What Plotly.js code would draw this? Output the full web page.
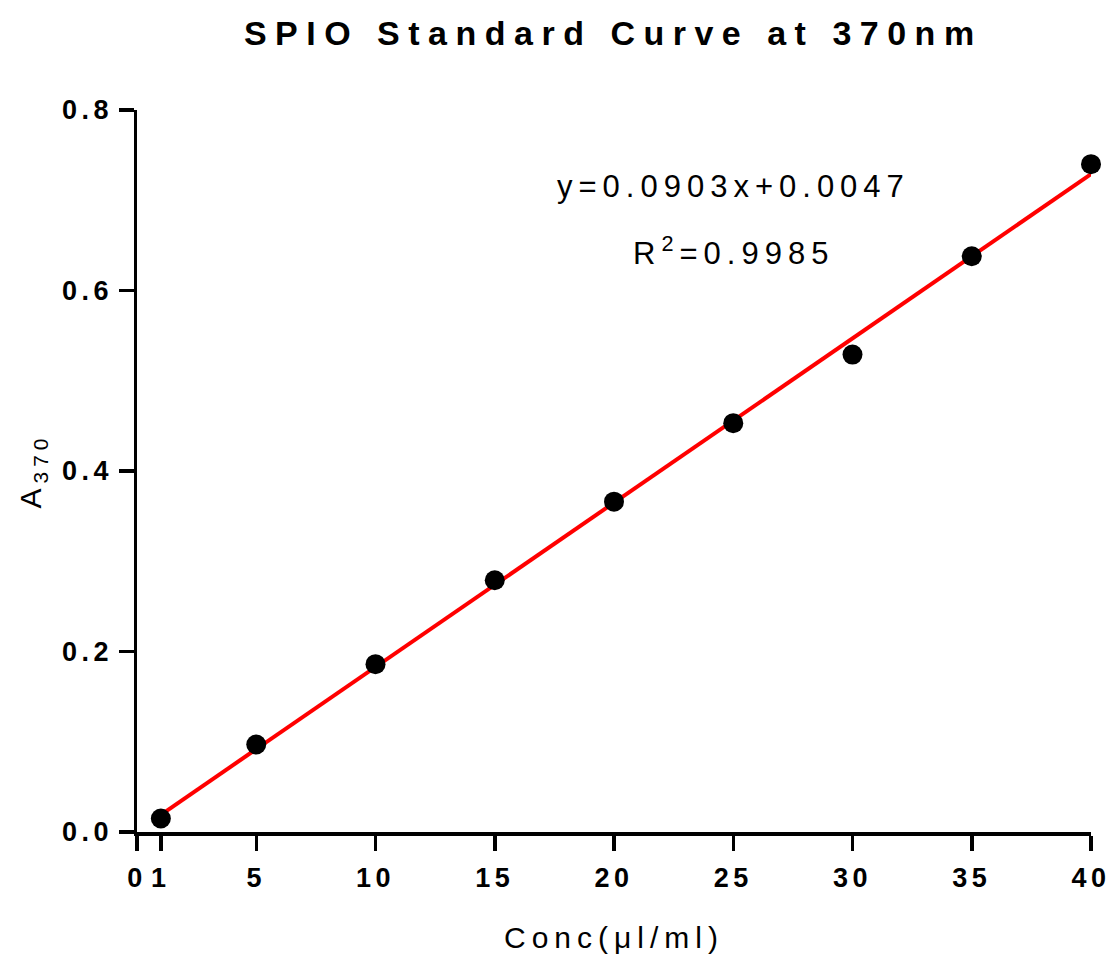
<!DOCTYPE html>
<html>
<head>
<meta charset="utf-8">
<script src="https://cdn.plot.ly/plotly-3.0.1.min.js"></script>
<style>
  html, body { margin: 0; padding: 0; background: #fff; }
  #chart { width: 1113px; height: 959px; }
  .gtitle { letter-spacing: 8.5px; }
  .xtick text, .ytick text { letter-spacing: 4.5px; }
  .xtitle { letter-spacing: 6px; }
  .ytitle { letter-spacing: 5px; }
  .annotation-text { letter-spacing: 6px; }
</style>
</head>
<body>
<div id="chart"></div>
<script>
// Data
const concentrations = [1, 5, 10, 15, 20, 25, 30, 35, 40];
const absorbance = [0.015, 0.097, 0.186, 0.279, 0.366, 0.453, 0.529, 0.638, 0.740];
const fitX = [1, 40];
const fitY = [0.019, 0.729];
const xTickVals = [0, 1, 5, 10, 15, 20, 25, 30, 35, 40];
const xTickText = ['0', '1', '5', '10', '15', '20', '25', '30', '35', '40'];
const yTickVals = [0, 0.2, 0.4, 0.6, 0.8];
const equationText = 'y=0.0903x+0.0047';
const r2Text = 'R<sup>2</sup>=0.9985';

const traces = [
  {
    x: fitX, y: fitY, mode: 'lines', type: 'scatter',
    line: { color: '#ff0000', width: 4 },
    hoverinfo: 'skip', showlegend: false, cliponaxis: false
  },
  {
    x: concentrations, y: absorbance, mode: 'markers', type: 'scatter',
    marker: { color: '#000000', size: 20 },
    showlegend: false, cliponaxis: false
  }
];

const tickFont = { family: 'Liberation Sans, Arial, sans-serif', size: 27, color: '#000', weight: 'bold' };

const layout = {
  width: 1113, height: 959,
  paper_bgcolor: '#fff', plot_bgcolor: '#fff',
  margin: { l: 137, r: 22, t: 110, b: 127, pad: 0 },
  title: {
    text: 'SPIO Standard Curve at 370nm',
    font: { family: 'Liberation Sans, Arial, sans-serif', size: 34, color: '#000', weight: 'bold' },
    x: 0.551, xref: 'container', xanchor: 'center',
    y: 0.966, yref: 'container', yanchor: 'middle'
  },
  xaxis: {
    range: [0, 40],
    tickmode: 'array', tickvals: xTickVals, ticktext: xTickText,
    showline: true, linecolor: '#000', linewidth: 3.5,
    ticks: 'outside', ticklen: 15, tickwidth: 3.5, tickcolor: '#000',
    ticklabelstandoff: 4,
    showgrid: false, zeroline: false,
    tickfont: tickFont,
    title: {
      text: 'Conc(μl/ml)',
      font: { family: 'Liberation Sans, Arial, sans-serif', size: 30, color: '#000' },
      standoff: 36
    }
  },
  yaxis: {
    range: [0, 0.8],
    tickmode: 'array', tickvals: yTickVals, tickformat: '.1f',
    showline: true, linecolor: '#000', linewidth: 3.5,
    ticks: 'outside', ticklen: 15, tickwidth: 3.5, tickcolor: '#000',
    showgrid: false, zeroline: false,
    tickfont: tickFont,
    title: {
      text: 'A<sub>370</sub>',
      font: { family: 'Liberation Sans, Arial, sans-serif', size: 30, color: '#000' },
      standoff: 12
    }
  },
  annotations: [
    {
      text: equationText, xref: 'paper', yref: 'paper',
      x: 0.625, y: 0.894, xanchor: 'center', yanchor: 'middle', showarrow: false,
      font: { family: 'Liberation Sans, Arial, sans-serif', size: 31, color: '#000' }
    },
    {
      text: r2Text, xref: 'paper', yref: 'paper',
      x: 0.625, y: 0.805, xanchor: 'center', yanchor: 'middle', showarrow: false,
      font: { family: 'Liberation Sans, Arial, sans-serif', size: 31, color: '#000' }
    }
  ]
};

Plotly.newPlot('chart', traces, layout, { staticPlot: true, displayModeBar: false });
</script>
</body>
</html>
